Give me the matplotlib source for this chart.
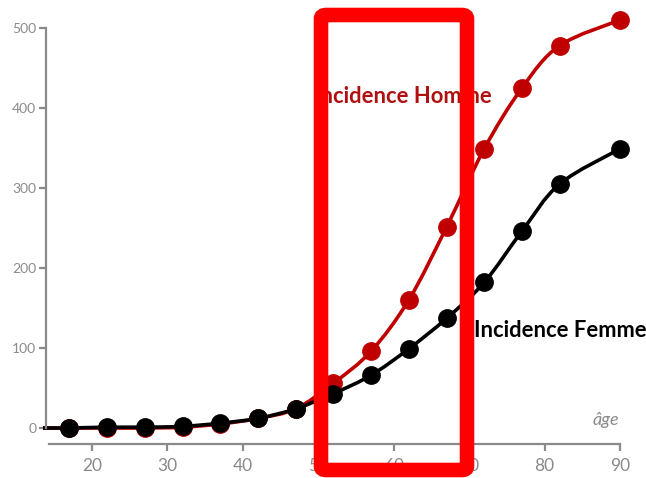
import matplotlib.pyplot as plt
from matplotlib.path import Path
from matplotlib.patches import PathPatch, FancyBboxPatch
import numpy as np

ages = [17, 22, 27, 32, 37, 42, 47, 52, 57, 62, 67, 72, 77, 82, 90]
homme = [0, 0, 0, 1, 5, 12, 24, 56, 96, 160, 251, 349, 425, 478, 510]
femme = [0, 1, 1, 2, 6, 12, 24, 43, 66, 99, 137, 182, 246, 305, 349]
line_start = 13.5
yticks = [0, 100, 200, 300, 400, 500]
xticks = [20, 30, 40, 50, 60, 70, 80, 90]

RED = '#C00000'
GREY = '#8a8a8a'


def smooth_path(xs, ys):
    # catmull-rom -> cubic bezier, drawing only
    pts = np.column_stack([xs, ys]).astype(float)
    verts = [pts[0]]
    codes = [Path.MOVETO]
    for i in range(len(pts) - 1):
        p0 = pts[i - 1] if i > 0 else pts[i]
        p1, p2 = pts[i], pts[i + 1]
        p3 = pts[i + 2] if i + 2 < len(pts) else pts[i + 1]
        c1 = p1 + (p2 - p0) / 6
        c2 = p2 - (p3 - p1) / 6
        verts += [c1, c2, p2]
        codes += [Path.CURVE4] * 3
    return Path(verts, codes)


fig = plt.figure(figsize=(6.46, 4.78), dpi=100)
ax = fig.add_axes([0, 0, 1, 1])
ax.set_xlim(20 - 92 / 7.543, 90 + 26 / 7.543)
ax.set_ylim(-62.5, 535)

for vals, col in [(homme, RED), (femme, 'black')]:
    xs = [line_start] + ages
    ys = [0] + vals
    ax.add_patch(PathPatch(smooth_path(xs, ys), facecolor='none',
                           edgecolor=col, lw=2.6, zorder=2))
    ax.plot(ages, vals, 'o', color=col, ms=12.5, zorder=3)

ax.spines['top'].set_visible(False)
ax.spines['right'].set_visible(False)
ax.spines['left'].set_position(('data', 13.9))
ax.spines['bottom'].set_position(('data', -20))
ax.spines['left'].set_bounds(0, 500)
ax.spines['bottom'].set_bounds(14.3, 90)
for s in ['left', 'bottom']:
    ax.spines[s].set_color(GREY)
    ax.spines[s].set_linewidth(1.6)

ax.set_yticks(yticks)
ax.set_xticks(xticks)
ax.tick_params(axis='y', colors=GREY, length=5, width=1.6, labelsize=10, pad=2)
ax.tick_params(axis='x', colors=GREY, length=5, width=1.6, labelsize=12.5, pad=5)
for lab in ax.get_xticklabels() + ax.get_yticklabels():
    lab.set_fontfamily('Lato')
    lab.set_color(GREY)

ax.text(49.4, 414, 'Incidence Homme', color='#B01010', fontsize=15.8,
        fontweight='bold', fontfamily='Lato', ha='left', va='center', zorder=4)
ax.text(70.6, 122, 'Incidence Femme', color='black', fontsize=15.8,
        fontweight='bold', fontfamily='Lato', ha='left', va='center', zorder=4)
ax.text(89.9, 10, 'âge', color=GREY, fontsize=13, style='italic',
        fontfamily='Lato', ha='right', va='center')

# red highlight frame (figure pixels)
W, H = 646, 478
frame = FancyBboxPatch((321 / W, (H - 470) / H), (467 - 321) / W, (470 - 15) / H,
                       boxstyle='round,pad=0,rounding_size=0.008',
                       transform=fig.transFigure, facecolor='none',
                       edgecolor='#FF0000', lw=10.5, zorder=10)
fig.patches.append(frame)

fig.savefig('out.png', dpi=100)
